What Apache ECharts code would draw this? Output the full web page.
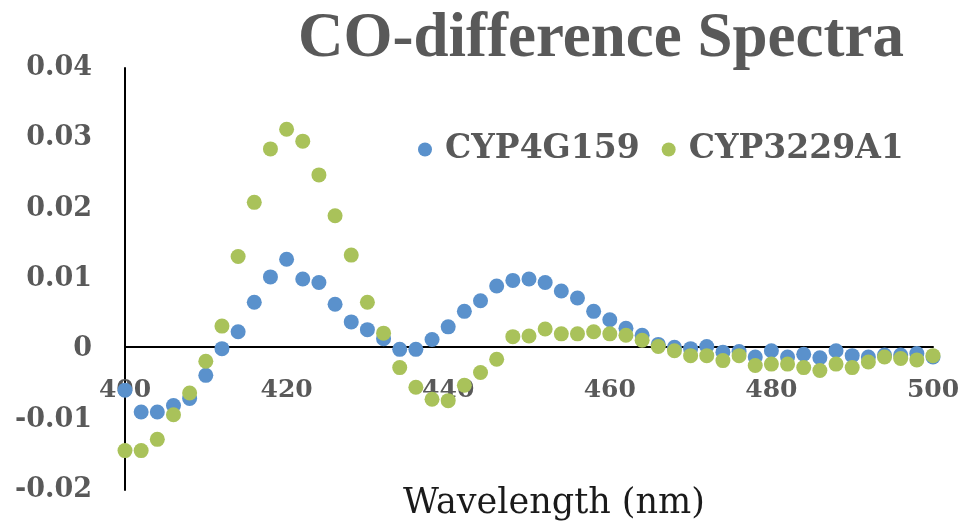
<!DOCTYPE html>
<html>
<head>
<meta charset="utf-8">
<script src="https://cdn.jsdelivr.net/npm/echarts@6/dist/echarts.min.js"></script>
<style>
  html, body { margin: 0; padding: 0; background: #fff; }
  #chart { width: 964px; height: 527px; }
</style>
</head>
<body>
<div id="chart"></div>
<script>
// wavelengths (nm), one reading every 2 nm
var wavelengths = [400, 402, 404, 406, 408, 410, 412, 414, 416, 418,
                   420, 422, 424, 426, 428, 430, 432, 434, 436, 438,
                   440, 442, 444, 446, 448, 450, 452, 454, 456, 458,
                   460, 462, 464, 466, 468, 470, 472, 474, 476, 478,
                   480, 482, 484, 486, 488, 490, 492, 494, 496, 498, 500];

var cyp4g159 = [-0.0058, -0.0089, -0.0089, -0.0080, -0.0070, -0.0037, 0.0001, 0.0025, 0.0067, 0.0103,
                0.0128, 0.0100, 0.0095, 0.0064, 0.0039, 0.0028, 0.0015, 0.0000, 0.0000, 0.0014,
                0.0032, 0.0054, 0.0069, 0.0090, 0.0098, 0.0100, 0.0095, 0.0083, 0.0073, 0.0054,
                0.0042, 0.0030, 0.0020, 0.0007, 0.0003, 0.0001, 0.0004, -0.0004, -0.0003, -0.0011,
                -0.0002, -0.0011, -0.0007, -0.0012, -0.0002, -0.0009, -0.0011, -0.0008, -0.0008, -0.0006, -0.0011];

var cyp3229a1 = [-0.0144, -0.0144, -0.0128, -0.0093, -0.0062, -0.0017, 0.0033, 0.0132, 0.0209, 0.0285,
                 0.0313, 0.0296, 0.0248, 0.0190, 0.0134, 0.0067, 0.0023, -0.0026, -0.0054, -0.0071,
                 -0.0073, -0.0051, -0.0033, -0.0014, 0.0018, 0.0019, 0.0029, 0.0022, 0.0022, 0.0025,
                 0.0022, 0.0020, 0.0013, 0.0004, -0.0002, -0.0009, -0.0009, -0.0016, -0.0009, -0.0023,
                 -0.0021, -0.0021, -0.0026, -0.0030, -0.0021, -0.0026, -0.0018, -0.0011, -0.0013, -0.0015, -0.0009];

var seriesNames = ['CYP4G159', 'CYP3229A1'];
var seriesColors = ['#5a91cc', '#a9c25a'];

function pairs(ys) {
    var out = [];
    for (var i = 0; i < wavelengths.length; i++) {
        out.push([wavelengths[i], ys[i]]);
    }
    return out;
}

var myChart = echarts.init(document.getElementById('chart'));

var option = {
    animation: false,
    title: [
        {
            text: 'CO-difference Spectra',
            left: 293,
            top: 3,
            textStyle: {
                fontFamily: 'Liberation Serif',
                fontWeight: 'bold',
                fontSize: 63,
                color: '#595959'
            }
        },
        {
            text: 'Wavelength (nm)',
            left: 398,
            top: 481,
            textStyle: {
                fontFamily: 'DejaVu Serif',
                fontWeight: 'normal',
                fontSize: 35,
                color: '#1a1a1a'
            }
        }
    ],
    legend: {
        left: 413,
        top: 128,
        itemGap: 22,
        itemWidth: 14,
        itemHeight: 14,
        icon: 'circle',
        data: seriesNames,
        textStyle: {
            fontFamily: 'DejaVu Serif',
            fontWeight: 'bold',
            fontSize: 33,
            color: '#595959',
            padding: [0, 0, 0, 8]
        }
    },
    grid: {
        left: 125,
        right: 31,
        top: 68,
        bottom: 37,
        containLabel: false,
        outerBoundsMode: 'none'
    },
    xAxis: {
        type: 'value',
        min: 400,
        max: 500,
        interval: 20,
        // the axis sits on y = 0, i.e. 143 px above the bottom of the grid
        offset: -143,
        axisLine: { onZero: false, lineStyle: { color: '#000', width: 2 } },
        axisTick: { show: false },
        splitLine: { show: false },
        axisLabel: {
            margin: 31,
            fontFamily: 'DejaVu Serif',
            fontWeight: 'bold',
            fontSize: 25,
            color: '#595959'
        }
    },
    yAxis: {
        type: 'value',
        min: -0.02,
        max: 0.04,
        interval: 0.01,
        axisLine: { show: true, lineStyle: { color: '#000', width: 2 } },
        axisTick: { show: false },
        splitLine: { show: false },
        axisLabel: {
            margin: 33,
            fontFamily: 'DejaVu Serif',
            fontWeight: 'bold',
            fontSize: 27,
            color: '#595959'
        }
    },
    series: [
        {
            name: seriesNames[0],
            type: 'scatter',
            symbol: 'circle',
            symbolSize: 15,
            itemStyle: { color: seriesColors[0], opacity: 1 },
            data: pairs(cyp4g159)
        },
        {
            name: seriesNames[1],
            type: 'scatter',
            symbol: 'circle',
            symbolSize: 15,
            itemStyle: { color: seriesColors[1], opacity: 1 },
            data: pairs(cyp3229a1)
        }
    ]
};

myChart.setOption(option);
</script>
</body>
</html>
